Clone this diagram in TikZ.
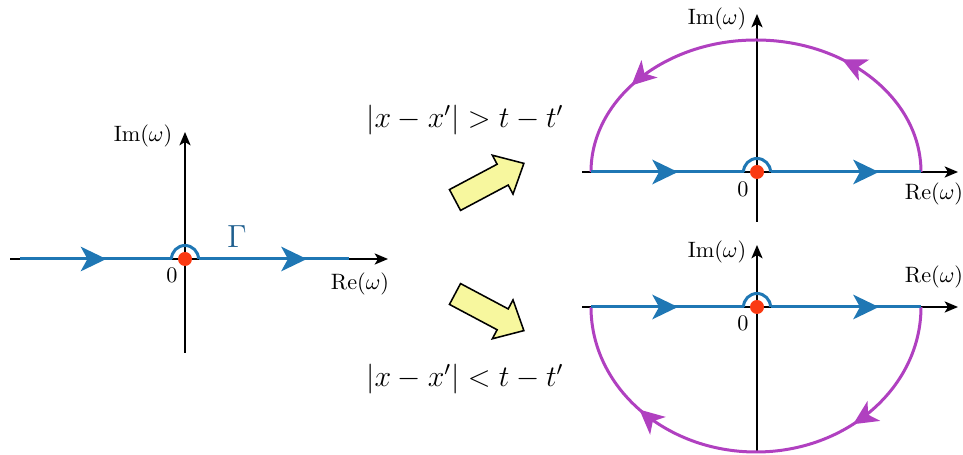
\documentclass[tikz,border=0pt]{standalone}
\usetikzlibrary{arrows.meta,decorations.markings}
\definecolor{cblue}{HTML}{1F77B4}
\definecolor{cgamma}{HTML}{1F5F8F}
\definecolor{cpurple}{HTML}{B040C0}
\definecolor{cred}{HTML}{FA3A12}
\definecolor{cyellow}{HTML}{F7F79E}
\tikzset{
  axis/.style={line width=0.9pt,-{Stealth[length=6pt,width=5pt,inset=1.5pt]}},
  contour/.style={cblue,line width=1.35pt},
  bigarc/.style={cpurple,line width=1.35pt},
  bluetip/.style={postaction={decorate},decoration={markings,
     mark=at position #1 with {\arrow{Stealth[length=11.5pt,width=11pt,inset=3pt]}}}},
  purpletips/.style 2 args={postaction={decorate},decoration={markings,
     mark=at position #1 with {\arrow{Stealth[length=11pt,width=10.5pt,inset=3pt]}},
     mark=at position #2 with {\arrow{Stealth[length=11pt,width=10.5pt,inset=3pt]}}}},
  pole/.style={circle,fill=cred,inner sep=0pt,minimum size=6.3pt},
  lab/.style={inner sep=0pt},
  formula/.style={inner sep=0pt,scale=1.12,font=\large},
  fatarrow/.style={fill=cyellow,draw=black,line width=0.7pt,line join=miter},
}
\begin{document}
\begin{tikzpicture}[x=0.45pt,y=-0.45pt]
\useasboundingbox (0,0) rectangle (963,455);

% ---------- left diagram ----------
\coordinate (L-xl) at (10,259); \coordinate (L-xr) at (388,259);
\coordinate (L-yb) at (185,353); \coordinate (L-yt) at (185,132);
\draw[axis] (L-xl) -- (L-xr);
\draw[axis] (L-yb) -- (L-yt);
\coordinate (L-a) at (20,259); \coordinate (L-b) at (171.5,259);
\coordinate (L-c) at (198.5,259); \coordinate (L-d) at (349,259);
\draw[contour,bluetip=0.57] (L-a) -- (L-b);
\draw[contour] (L-b) arc[start angle=180,end angle=360,radius=13.5];
\draw[contour,bluetip=0.72] (L-c) -- (L-d);
\node[pole] (L-o) at (185,259) {};
\node[lab] (L-im) at (143,136) {$\mathrm{Im}(\omega)$};
\node[lab] (L-re) at (360,284) {$\mathrm{Re}(\omega)$};
\node[lab] (L-0) at (172,275) {$0$};
\node[lab,text=cgamma] (L-g) at (237,237) {\Large$\Gamma$};

% ---------- formulas and fat arrows ----------
\node[formula] (f-up) at (465,120) {$|x-x'|>t-t'$};
\node[formula] (f-dn) at (465,379) {$|x-x'|<t-t'$};
\begin{scope}[shift={(455,200)},rotate=28]
  \draw[fatarrow] (0,-11.8) -- (54,-11.8) -- (54,-22) -- (78,0) -- (54,22) -- (54,11.8) -- (0,11.8) -- cycle;
\end{scope}
\begin{scope}[shift={(455,294)},rotate=-28]
  \draw[fatarrow] (0,-11.8) -- (54,-11.8) -- (54,-22) -- (78,0) -- (54,22) -- (54,11.8) -- (0,11.8) -- cycle;
\end{scope}

% ---------- top right diagram ----------
\coordinate (T-xl) at (582,172); \coordinate (T-xr) at (958,172);
\coordinate (T-yb) at (757,222); \coordinate (T-yt) at (757,14);
\draw[axis] (T-xl) -- (T-xr);
\draw[axis] (T-yb) -- (T-yt);
\coordinate (T-a) at (591,172); \coordinate (T-b) at (743.5,172);
\coordinate (T-c) at (770.5,172); \coordinate (T-d) at (921,172);
\draw[bigarc,purpletips={0.31}{0.79}] (T-d) arc[start angle=0,end angle=-180,x radius=165,y radius=132];
\draw[contour,bluetip=0.57] (T-a) -- (T-b);
\draw[contour] (T-b) arc[start angle=180,end angle=360,radius=13.5];
\draw[contour,bluetip=0.72] (T-c) -- (T-d);
\node[pole] (T-o) at (757,172) {};
\node[lab] (T-im) at (717,19) {$\mathrm{Im}(\omega)$};
\node[lab] (T-re) at (934,194) {$\mathrm{Re}(\omega)$};
\node[lab] (T-0) at (743,189) {$0$};

% ---------- bottom right diagram ----------
\coordinate (B-xl) at (582,307); \coordinate (B-xr) at (958,307);
\coordinate (B-yb) at (757,451); \coordinate (B-yt) at (757,245);
\draw[axis] (B-xl) -- (B-xr);
\draw[axis] (B-yb) -- (B-yt);
\coordinate (B-a) at (591,307); \coordinate (B-b) at (743.5,307);
\coordinate (B-c) at (770.5,307); \coordinate (B-d) at (921,307);
\draw[bigarc,purpletips={0.29}{0.76}] (B-d) arc[start angle=0,end angle=180,x radius=165,y radius=145];
\draw[contour,bluetip=0.57] (B-a) -- (B-b);
\draw[contour] (B-b) arc[start angle=180,end angle=360,radius=13.5];
\draw[contour,bluetip=0.72] (B-c) -- (B-d);
\node[pole] (B-o) at (757,307) {};
\node[lab] (B-im) at (717,252) {$\mathrm{Im}(\omega)$};
\node[lab] (B-re) at (934,277) {$\mathrm{Re}(\omega)$};
\node[lab] (B-0) at (743,323) {$0$};
\end{tikzpicture}
\end{document}
